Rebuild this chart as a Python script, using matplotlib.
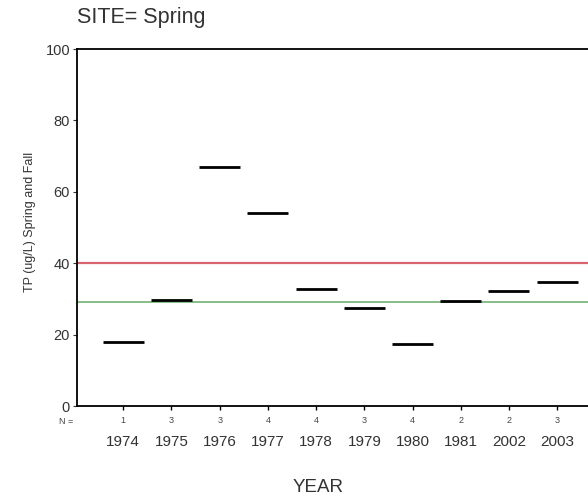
import matplotlib
matplotlib.use("Agg")
import matplotlib.pyplot as plt

years = ["1974", "1975", "1976", "1977", "1978", "1979", "1980", "1981", "2002", "2003"]
n_counts = [1, 3, 3, 4, 4, 3, 4, 2, 2, 3]
tp_values = [17.8, 29.6, 66.9, 54.0, 32.8, 27.4, 17.3, 29.5, 32.3, 34.7]
red_ref = 40
green_ref = 29

plt.rcParams['font.family'] = ['Liberation Sans', 'DejaVu Sans']

fig = plt.figure(figsize=(5.88, 4.96), dpi=100)
ax = fig.add_axes([77/588, 90/496, 1 - 77/588, (406-49)/496])

xs = list(range(len(years)))
half = 0.425
for x, v in zip(xs, tp_values):
    ax.hlines(v, x - half, x + half, color='black', linewidth=2.0, zorder=3)

ax.axhline(red_ref, color='#d9636e', linewidth=1.6, zorder=2)
ax.axhline(green_ref, color='#7fb77e', linewidth=1.3, zorder=2)

ax.set_xlim(-0.96, 9.64)
ax.set_ylim(0, 100)
ax.set_yticks([0, 20, 40, 60, 80, 100])
ax.tick_params(axis='y', direction='out', length=3, width=0.8, labelsize=10.5, pad=2, colors='#333333')
ax.set_xticks(xs)
ax.set_xticklabels([str(n) for n in n_counts], fontsize=6.5, color='#444444')
ax.tick_params(axis='x', direction='out', length=3, width=1.0, pad=4)
ax.spines['right'].set_visible(False)
for s in ['left', 'bottom', 'top']:
    ax.spines[s].set_linewidth(1.3)

for x, y in zip(xs, years):
    ax.text(x, -0.10, y, transform=ax.get_xaxis_transform(), ha='center', va='center',
            fontsize=11, color='#333333')

fig.text(73/588, 1 - 421/496, "N =", ha='right', va='center', fontsize=6.5, color='#444444')
fig.text(318/588, 1 - 487/496, "YEAR", ha='center', va='center', fontsize=13.5, color='#333333')
fig.text(30/588, 1 - 222/496, "TP (ug/L) Spring and Fall", rotation=90, ha='center', va='center',
         fontsize=9, color='#333333')
fig.text(77/588, 1 - 18/496, "SITE= Spring", ha='left', va='center', fontsize=15.5, color='#333333')

fig.savefig("out.png", dpi=100)
